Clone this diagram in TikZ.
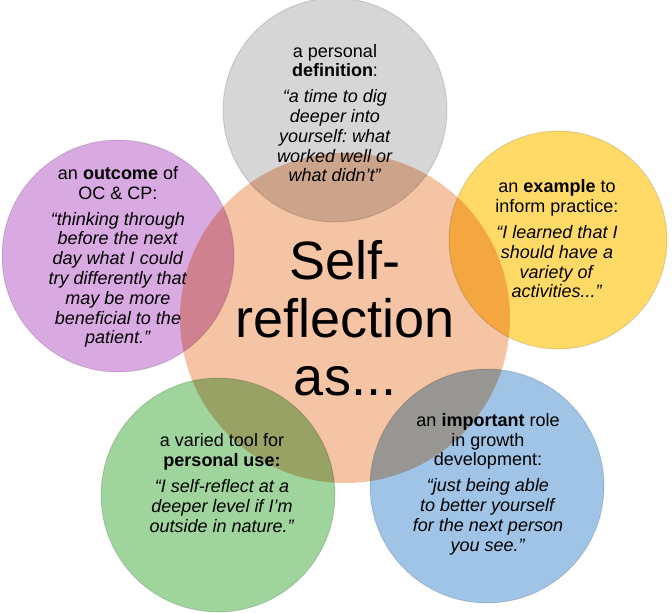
\documentclass[tikz,border=0pt]{standalone}
\usepackage{fontspec}
\setmainfont{Liberation Sans}
\frenchspacing
\definecolor{peach}{HTML}{F4C4A4}
\definecolor{greyc}{HTML}{D6D6D6}
\definecolor{yellowc}{HTML}{FFDA66}
\definecolor{purplec}{HTML}{D9A9E1}
\definecolor{greenc}{HTML}{9FD49C}
\definecolor{bluec}{HTML}{9FC4E6}
\begin{document}
\begin{tikzpicture}[x=1pt,y=-1pt,
	bubble/.style={blend mode=multiply,draw=black!12,line width=1pt},
	say/.style={align=center,inner sep=0pt,font=\fontsize{18}{19.8}\selectfont}]
	\useasboundingbox (0,0) rectangle (672,613);
	\fill[white] (0,0) rectangle (672,613);
	% centre
	\fill[peach] (345,318) circle (165);
	% petals
	\filldraw[bubble,fill=greyc] (335,110) circle (112);
	\filldraw[bubble,fill=yellowc] (558,240) circle (109);
	\filldraw[bubble,fill=purplec] (118,256) circle (116);
	\filldraw[bubble,fill=greenc] (218,495) circle (117);
	\filldraw[bubble,fill=bluec] (487,486) circle (117);
	
	\node[align=center,inner sep=0pt,font=\fontsize{54}{58}\selectfont] (self) at (345,318) {Self-\\reflection\\as...};
	
	\node[say] (defn) at (335,113) {a personal\\\textbf{definition}:\\[6pt]\textit{``a time to dig}\\\textit{deeper into}\\\textit{yourself: what}\\\textit{worked well or}\\\textit{what didn't''}};
	\node[say] (example) at (557,239) {an \textbf{example} to\\inform practice:\\[6pt]\textit{``I learned that I}\\\textit{should have a}\\\textit{variety of}\\\textit{activities...''}};
	\node[say] (outcome) at (118,257) {an \textbf{outcome} of\\OC \& CP:\\[6pt]\textit{``thinking through}\\\textit{before the next}\\\textit{day what I could}\\\textit{try differently that}\\\textit{may be more}\\\textit{beneficial to the}\\\textit{patient.''}};
	\node[say] (tool) at (222,483) {a varied tool for\\\textbf{personal use:}\\[6pt]\textit{``I self-reflect at a}\\\textit{deeper level if I'm}\\\textit{outside in nature.''}};
	\node[say] (role) at (488,484) {an \textbf{important} role\\in growth\\development:\\[6pt]\textit{``just being able}\\\textit{to better yourself}\\\textit{for the next person}\\\textit{you see.''}};
\end{tikzpicture}
\end{document}
